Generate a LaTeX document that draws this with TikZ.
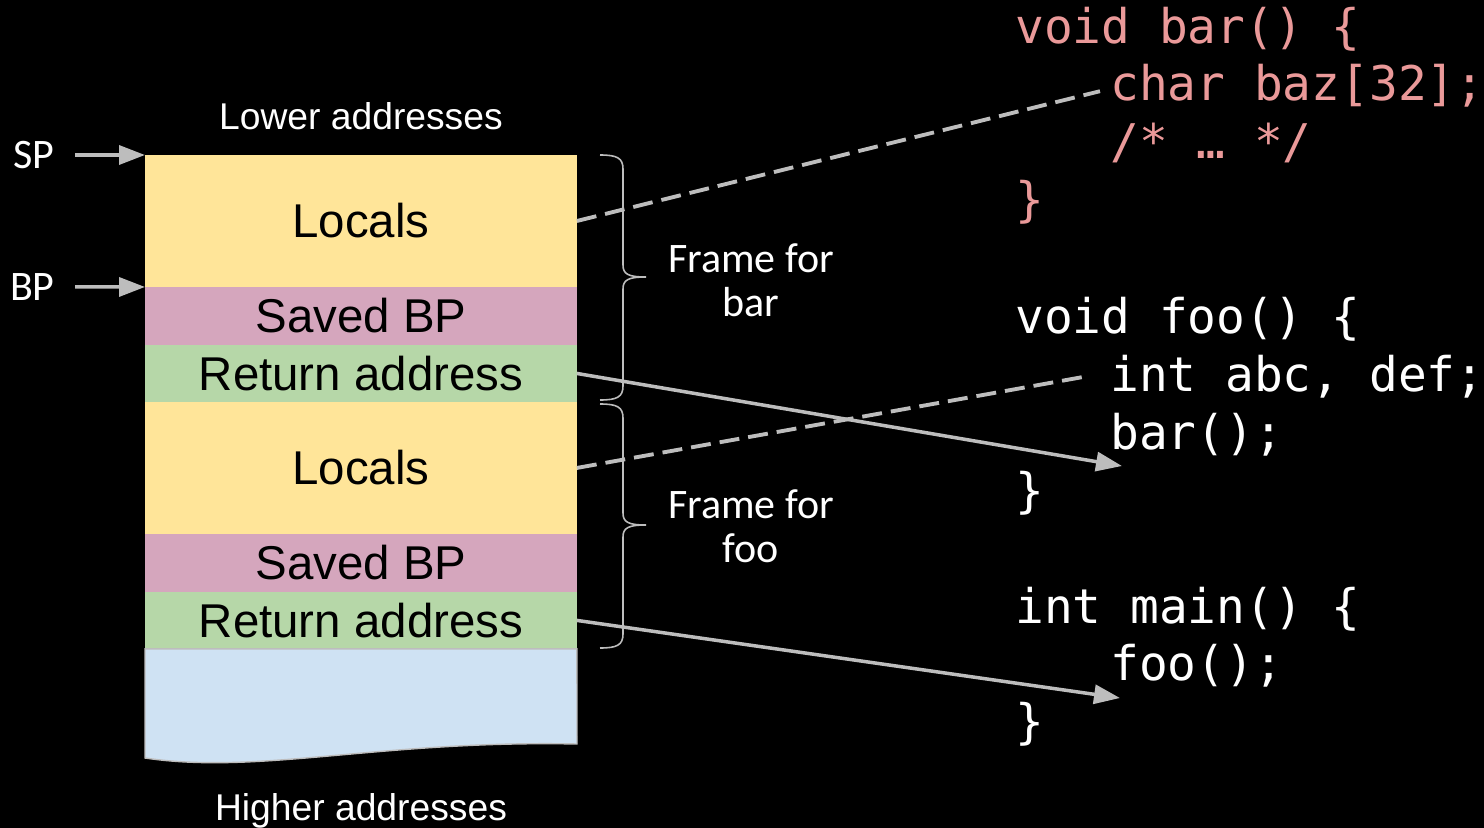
\documentclass[tikz,border=0pt]{standalone}
\usepackage{fontspec}
\setmainfont{Liberation Sans}
\newfontfamily\lblfont{Carlito}
\newfontfamily\codefont{DejaVu Sans Mono}
\usetikzlibrary{positioning,arrows.meta}
\definecolor{locyellow}{HTML}{FFE599}
\definecolor{bppink}{HTML}{D5A6BD}
\definecolor{retgreen}{HTML}{B6D7A8}
\definecolor{restblue}{HTML}{CFE2F3}
\definecolor{codered}{HTML}{EA9999}
\definecolor{linegray}{HTML}{BDBDBD}

% brace on the right of a frame: top y, tip y, bottom y
\newcommand{\framebrace}[3]{%
  \draw[bracepath] (600,#1) .. controls (617,#1) and (623,#1+3) .. (623,#1+14)
    -- (623,#2-12) .. controls (623,#2-3) and (628,#2) .. (646,#2)
    .. controls (628,#2) and (623,#2+3) .. (623,#2+12)
    -- (623,#3-14) .. controls (623,#3-3) and (617,#3) .. (600,#3);}

\begin{document}
\begin{tikzpicture}[
  x=0.02cm, y=-0.02cm,
  cell/.style={rectangle, minimum width=8.64cm, inner sep=0pt, outer sep=0pt, font=\fontsize{27}{32}\selectfont},
  localcell/.style={cell, fill=locyellow, minimum height=2.64cm},
  bpcell/.style={cell, fill=bppink, minimum height=1.16cm},
  retcell/.style={cell, fill=retgreen, minimum height=1.14cm},
  addrlbl/.style={text=white, font=\fontsize{21.2}{25}\selectfont},
  reglbl/.style={text=white, inner sep=0.4cm, font=\lblfont\fontsize{23.9}{25}\selectfont},
  framelbl/.style={text=white, align=center, inner sep=0pt, font=\lblfont\fontsize{23.9}{25}\selectfont},
  code/.style={anchor=base west, inner sep=0pt, text=white, font=\codefont\fontsize{27.2}{32}\selectfont},
  ptr/.style={-{Triangle[length=0.52cm, width=0.38cm]}, linegray, line width=2pt},
  dashline/.style={linegray, line width=2.2pt, dash pattern=on 0.4cm off 0.18cm},
  bracepath/.style={linegray, line width=0.9pt}
]

\useasboundingbox (0,0) rectangle (1484,828);
\fill[black] (0,0) rectangle (1484,828);

% Stack
\node[localcell, anchor=north west] (loc1) at (145,155) {Locals};
\node[bpcell, below=0pt of loc1] (sbp1) {Saved BP};
\node[retcell, below=0pt of sbp1] (ret1) {Return address};
\node[localcell, below=0pt of ret1] (loc2) {Locals};
\node[bpcell, below=0pt of loc2] (sbp2) {Saved BP};
\node[retcell, below=0pt of sbp2] (ret2) {Return address};

\filldraw[fill=restblue, draw=linegray, line width=0.8pt] (ret2.south west) -- (ret2.south east) -- (577,744)
  .. controls (380,740) and (260,775) .. (145,758) -- cycle;

\node[addrlbl, above=0.37cm of loc1] (lower) {Lower addresses};
\node[addrlbl, anchor=base] (higher) at (361,820) {Higher addresses};

% Registers
\node[reglbl, anchor=east] (sp) at (75,155) {SP};
\node[reglbl, anchor=east] (bp) at (75,287) {BP};
\draw[ptr] (sp) -- (loc1.north west);
\draw[ptr] (bp) -- (loc1.south west);

% Frames
\framebrace{155}{277}{400}
\framebrace{404}{525}{648}
\node[framelbl] (barlbl) at (751,280) {Frame for\\bar};
\node[framelbl] (foolbl) at (751,526) {Frame for\\foo};

% Code
\node[code, text=codered] (barhead) at (1015,44) {void bar() \{};
\node[code, text=codered] (barbaz) at (1110,101) {char baz[32];};
\node[code, text=codered] (barcmt) at (1110,158) {/* … */};
\node[code, text=codered] (barclose) at (1015,216) {\}};

\node[code] (foohead) at (1015,333) {void foo() \{};
\node[code] (fooabc) at (1110,391) {int abc, def;};
\node[code] (foocall) at (1110,449) {bar();};
\node[code] (fooclose) at (1015,507) {\}};

\node[code] (mainhead) at (1015,623) {int main() \{};
\node[code] (maincall) at (1110,680) {foo();};
\node[code] (mainclose) at (1015,738) {\}};

\coordinate (barret) at (1122,466);
\coordinate (fooret) at (1120,698);

\draw[dashline] (loc1.east) -- ([xshift=-0.2cm, yshift=-0.1cm]barbaz.west);
\draw[dashline] (loc2.east) -- ([xshift=-0.45cm]fooabc.west);
\draw[ptr] (ret1.east) -- (barret);
\draw[ptr] (ret2.east) -- (fooret);

\end{tikzpicture}
\end{document}
